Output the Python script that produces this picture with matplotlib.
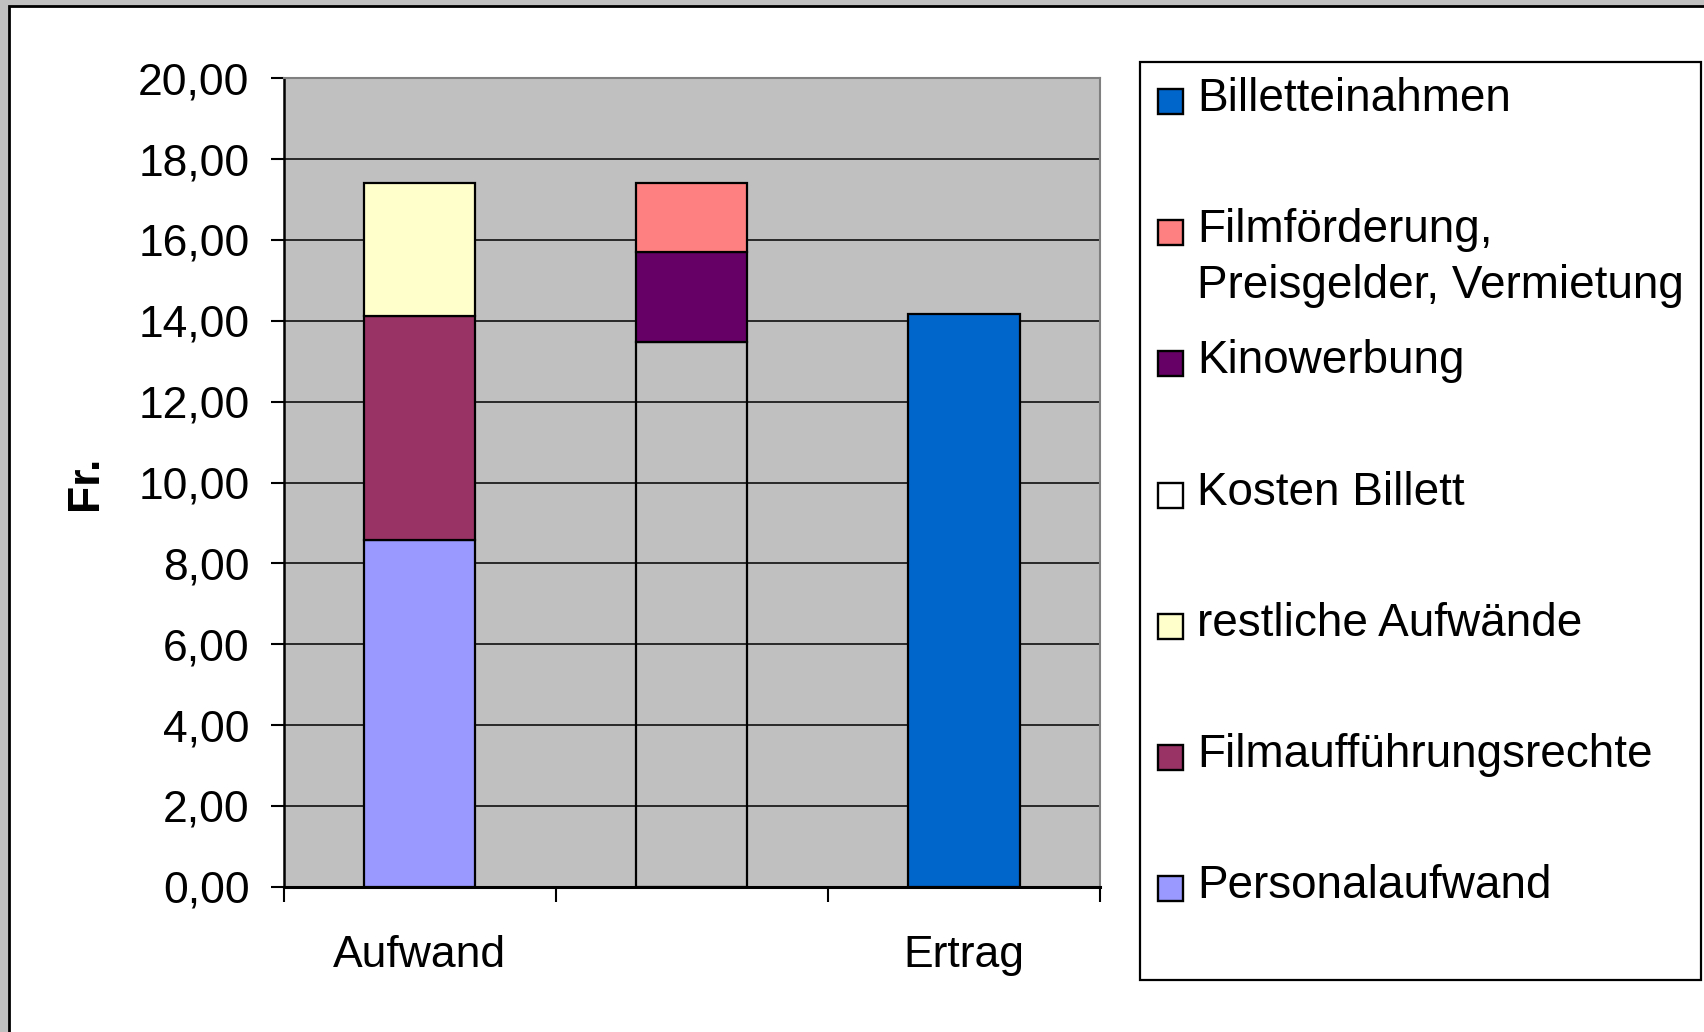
import numpy as np
import matplotlib
matplotlib.use("Agg")
import matplotlib.pyplot as plt
from matplotlib.patches import Rectangle
from matplotlib.ticker import FuncFormatter, FixedLocator

plt.rcParams['font.family'] = ['Liberation Sans', 'DejaVu Sans']

# Data (Fr. per ticket)
categories = ['Aufwand', '', 'Ertrag']
personalaufwand = [8.58, 0, 0]
filmauffuehrungsrechte = [5.53, 0, 0]
restliche_aufwaende = [3.31, 0, 0]
kosten_billett = [0, 13.47, 0]
kinowerbung = [0, 2.24, 0]
filmfoerderung = [0, 1.71, 0]
billetteinahmen = [0, 0, 14.18]

# stacking order (bottom -> top) with colours; None = transparent fill
series = [
    ('Personalaufwand', personalaufwand, '#9999FF'),
    ('Filmaufführungsrechte', filmauffuehrungsrechte, '#993366'),
    ('restliche Aufwände', restliche_aufwaende, '#FFFFCC'),
    ('Kosten Billett', kosten_billett, None),
    ('Kinowerbung', kinowerbung, '#660066'),
    ('Filmförderung,\nPreisgelder, Vermietung', filmfoerderung, '#FF8080'),
    ('Billetteinahmen', billetteinahmen, '#0066CC'),
]

W, H = 1704, 1032
fig = plt.figure(figsize=(W / 100, H / 100), dpi=100)
fig.patch.set_facecolor('#C0C0C0')

def fx(px):
    return px / W

def fy(py):
    return 1 - py / H

# white chart area with black frame (cropped at right / bottom)
fig.add_artist(Rectangle((fx(8.7), fy(1040)), fx(1720), fy(6.2) - fy(1040),
                         transform=fig.transFigure, facecolor='white',
                         edgecolor='black', linewidth=2, zorder=0))

left, right, top, bottom = 283.5, 1099.8, 78.3, 886.8
ax = fig.add_axes([fx(left), fy(bottom), fx(right) - fx(left), fy(top) - fy(bottom)])
ax.set_facecolor('#C0C0C0')

x = np.arange(len(categories))
width = 0.41
base = np.zeros(len(categories))
for name, vals, col in series:
    vals = np.array(vals, dtype=float)
    idx = vals > 0
    ax.bar(x[idx], vals[idx], width=width, bottom=base[idx],
           color=col if col else 'none', edgecolor='black', linewidth=1.6, zorder=3)
    base += vals

ax.set_xlim(-0.5, 2.5)
ax.set_ylim(0, 20)

# y axis
ax.set_yticks(np.arange(0, 21, 2))
ax.yaxis.set_major_formatter(FuncFormatter(lambda v, p: f'{v:.2f}'.replace('.', ',')))
ax.tick_params(axis='y', direction='out', length=9.5, width=1.5, pad=15, labelsize=32)
ax.yaxis.grid(True, color='black', linewidth=1.1, zorder=1)
ax.set_axisbelow(True)
ax.set_ylabel('Fr.', fontsize=32, fontweight='bold', va='center')
ax.yaxis.set_label_coords((85 - left) / (right - left), 0.5)

# x axis: ticks on category borders, labels in the middle
ax.xaxis.set_major_locator(FixedLocator([-0.5, 0.5, 1.5, 2.5]))
ax.xaxis.set_major_formatter(FuncFormatter(lambda v, p: ''))
ax.xaxis.set_minor_locator(FixedLocator(x))
ax.set_xticklabels(categories, minor=True)
ax.tick_params(axis='x', which='major', direction='out', length=11, width=1.5)
ax.tick_params(axis='x', which='minor', length=0, pad=34.5, labelsize=32)

for s in ['left', 'bottom']:
    ax.spines[s].set_color('black')
    ax.spines[s].set_linewidth(1.8)
ax.spines['bottom'].set_linewidth(2.2)
for s in ['top', 'right']:
    ax.spines[s].set_color('#808080')
    ax.spines[s].set_linewidth(1.5)

# legend box (drawn by hand to keep Excel's fixed row spacing)
fig.add_artist(Rectangle((fx(1139.5), fy(980)), fx(1700.5) - fx(1139.5), fy(61.5) - fy(980),
                         transform=fig.transFigure, facecolor='white',
                         edgecolor='black', linewidth=1.6, zorder=2))
legend_order = [6, 5, 4, 3, 2, 1, 0]
for i, k in enumerate(legend_order):
    name, vals, col = series[k]
    baseline = 111 + i * 131.2
    fig.add_artist(Rectangle((fx(1158), fy(baseline + 3)), fx(25), fy(0) - fy(25),
                             transform=fig.transFigure, facecolor=col if col else 'white',
                             edgecolor='black', linewidth=1.7, zorder=3))
    for j, line in enumerate(name.split('\n')):
        fig.text(fx(1197), fy(baseline + j * 56), line, fontsize=33,
                 ha='left', va='baseline', zorder=3)

fig.savefig('out.png', dpi=100, facecolor=fig.get_facecolor())
